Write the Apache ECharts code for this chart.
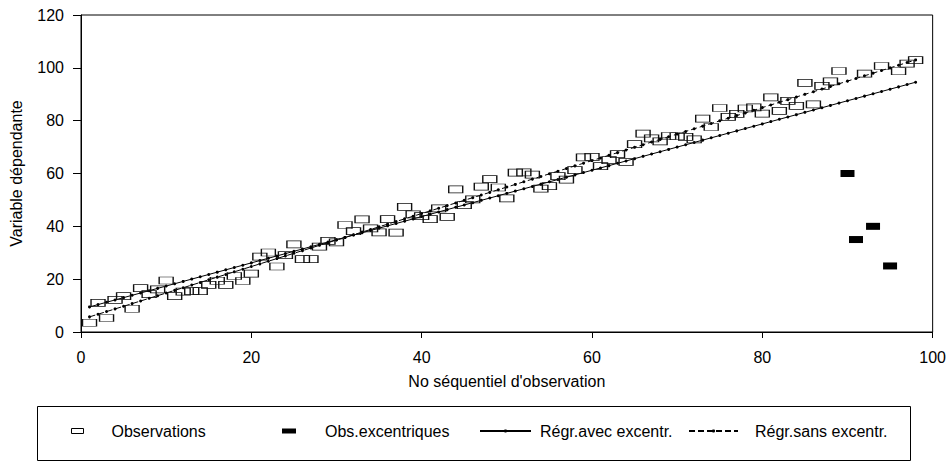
<!DOCTYPE html>
<html>
<head>
<meta charset="utf-8">
<script src="https://cdn.jsdelivr.net/npm/echarts@6/dist/echarts.min.js"></script>
<style>
  html, body { margin: 0; padding: 0; background: #fff; }
  #chart { width: 949px; height: 462px; }
</style>
</head>
<body>
<div id="chart"></div>
<script>
// Regular observations: sequence number and value
const obsX = [1,2,3,4,5,6,7,8,9,10,11,12,13,14,15,16,17,18,19,20,
  21,22,23,24,25,26,27,28,29,30,31,32,33,34,35,36,37,38,39,40,
  41,42,43,44,45,46,47,48,49,50,51,52,53,54,55,56,57,58,59,60,
  61,62,63,64,65,66,67,68,69,70,71,72,73,74,75,76,77,78,79,80,
  81,82,83,84,85,86,87,88,89,92,94,96,97,98];
const obsY = [3.5,11,5.3,12.2,13.6,8.8,16.6,14.3,16.1,19.5,13.6,15.3,15.5,15.5,17.8,19.4,17.8,21.2,19.3,22.1,
  28.5,30.1,24.8,29.1,33.2,27.6,27.6,32.3,34.5,33.9,40.5,38.2,42.6,39.2,37.7,42.7,37.6,47.4,44.5,43.9,
  42.7,46.8,43.6,54.0,48.0,50.2,55.0,57.9,54.7,50.6,60.3,60.4,59.6,54.3,55.2,59.0,57.7,61.3,66.1,66.3,
  62.8,65.1,67.3,64.4,71.1,75.1,73.3,72.2,74.2,74.1,73.9,72.9,80.8,77.6,84.8,81.4,82.6,84.6,85.0,82.7,
  88.8,83.7,87.5,85.6,94.3,86.2,93.2,94.9,98.8,97.8,100.7,98.7,101.6,102.9];

// Outlying observations
const outX = [90, 91, 93, 95];
const outY = [60, 35, 40, 25];

// Axis ticks
const xTicks = [0, 20, 40, 60, 80, 100];
const yTicks = [0, 20, 40, 60, 80, 100, 120];

const names = {
  obs: 'Observations',
  out: 'Obs.excentriques',
  avec: 'Régr.avec excentr.',
  sans: 'Régr.sans excentr.'
};

// Ordinary least squares fit
function fit(xs, ys) {
  const n = xs.length;
  let sx = 0, sy = 0, sxx = 0, sxy = 0;
  for (let i = 0; i < n; i++) {
    sx += xs[i]; sy += ys[i]; sxx += xs[i] * xs[i]; sxy += xs[i] * ys[i];
  }
  const b = (n * sxy - sx * sy) / (n * sxx - sx * sx);
  const a = (sy - b * sx) / n;
  return { a, b };
}

const allX = obsX.concat(outX).sort((p, q) => p - q);
const allYByX = {};
obsX.forEach((x, i) => { allYByX[x] = obsY[i]; });
outX.forEach((x, i) => { allYByX[x] = outY[i]; });
const allY = allX.map(x => allYByX[x]);

const fitAvec = fit(allX, allY);
const fitSans = fit(obsX, obsY);
const lineAvec = allX.map(x => [x, fitAvec.a + fitAvec.b * x]);
const lineSans = allX.map(x => [x, fitSans.a + fitSans.b * x]);

const FONT = "'Liberation Sans', Arial, sans-serif";
const legendTop = 423;

const chart = echarts.init(document.getElementById('chart'), null, { renderer: 'svg' });

chart.setOption({
  animation: false,
  backgroundColor: '#fff',
  textStyle: { fontFamily: FONT, color: '#000' },
  grid: {
    left: 77, right: 15, top: 15, bottom: 130,
    show: true, borderColor: '#000', borderWidth: 1, containLabel: false
  },
  xAxis: {
    type: 'value',
    min: xTicks[0], max: xTicks[xTicks.length - 1], interval: xTicks[1] - xTicks[0],
    name: 'No séquentiel d\'observation',
    nameLocation: 'middle', nameGap: 41,
    nameTextStyle: { fontSize: 16, fontFamily: FONT, color: '#000' },
    axisLine: { show: true, lineStyle: { color: '#000', width: 1 } },
    axisTick: { show: true, inside: false, length: 6, lineStyle: { color: '#000' } },
    axisLabel: { fontSize: 16, fontFamily: FONT, color: '#000', margin: 17 },
    splitLine: { show: false }
  },
  yAxis: {
    type: 'value',
    min: yTicks[0], max: yTicks[yTicks.length - 1], interval: yTicks[1] - yTicks[0],
    name: 'Variable dépendante',
    nameLocation: 'middle', nameGap: 57, nameRotate: 90,
    nameTextStyle: { fontSize: 16, fontFamily: FONT, color: '#000' },
    axisLine: { show: true, lineStyle: { color: '#000', width: 1 } },
    axisTick: { show: true, inside: false, length: 8, lineStyle: { color: '#000' } },
    axisLabel: { fontSize: 16, fontFamily: FONT, color: '#000', margin: 17 },
    splitLine: { show: false }
  },
  legend: [
    {
      data: [{ name: names.obs, icon: 'rect',
        itemStyle: { color: '#fff', borderColor: '#000', borderWidth: 1, opacity: 1 } }],
      left: 71, top: legendTop, padding: 0, selectedMode: false,
      itemWidth: 12, itemHeight: 5,
      textStyle: { fontSize: 16, fontFamily: FONT, color: '#000', padding: [0, 0, 0, 23] }
    },
    {
      data: [{ name: names.out, icon: 'rect', itemStyle: { color: '#000', borderWidth: 0, opacity: 1 } }],
      left: 282, top: legendTop, padding: 0, selectedMode: false,
      itemWidth: 14, itemHeight: 5,
      textStyle: { fontSize: 16, fontFamily: FONT, color: '#000', padding: [0, 0, 0, 24] }
    },
    {
      data: [names.avec],
      left: 479, top: legendTop, padding: 0, selectedMode: false,
      itemWidth: 51, itemHeight: 4,
      textStyle: { fontSize: 16, fontFamily: FONT, color: '#000', padding: [0, 0, 0, 4] }
    },
    {
      data: [names.sans],
      left: 688, top: legendTop, padding: 0, selectedMode: false,
      itemWidth: 49, itemHeight: 4,
      textStyle: { fontSize: 16, fontFamily: FONT, color: '#000', padding: [0, 0, 0, 12] }
    }
  ],
  graphic: [
    {
      type: 'rect', silent: true,
      shape: { x: 37.5, y: 406.5, width: 873, height: 54 },
      style: { fill: 'none', stroke: '#000', lineWidth: 1 }
    }
  ],
  series: [
    {
      name: names.avec,
      type: 'line',
      data: lineAvec,
      symbol: 'circle', symbolSize: 3, showSymbol: true,
      itemStyle: { color: '#000', opacity: 1 },
      lineStyle: { color: '#000', width: 1, type: 'solid' },
      z: 2
    },
    {
      name: names.sans,
      type: 'line',
      data: lineSans,
      symbol: 'circle', symbolSize: 3, showSymbol: true,
      itemStyle: { color: '#000', opacity: 1 },
      lineStyle: { color: '#000', width: 1, type: [6, 3] },
      z: 2
    },
    {
      name: names.obs,
      type: 'scatter',
      data: obsX.map((x, i) => [x, obsY[i]]),
      symbol: 'rect', symbolSize: [14, 7],
      itemStyle: { color: 'rgba(255,255,255,0)', borderColor: '#111', borderWidth: 1, opacity: 1 },
      z: 3
    },
    {
      name: names.out,
      type: 'scatter',
      data: outX.map((x, i) => [x, outY[i]]),
      symbol: 'rect', symbolSize: [14, 7],
      itemStyle: { color: '#000', borderWidth: 0, opacity: 1 },
      z: 3
    }
  ]
});
</script>
</body>
</html>
